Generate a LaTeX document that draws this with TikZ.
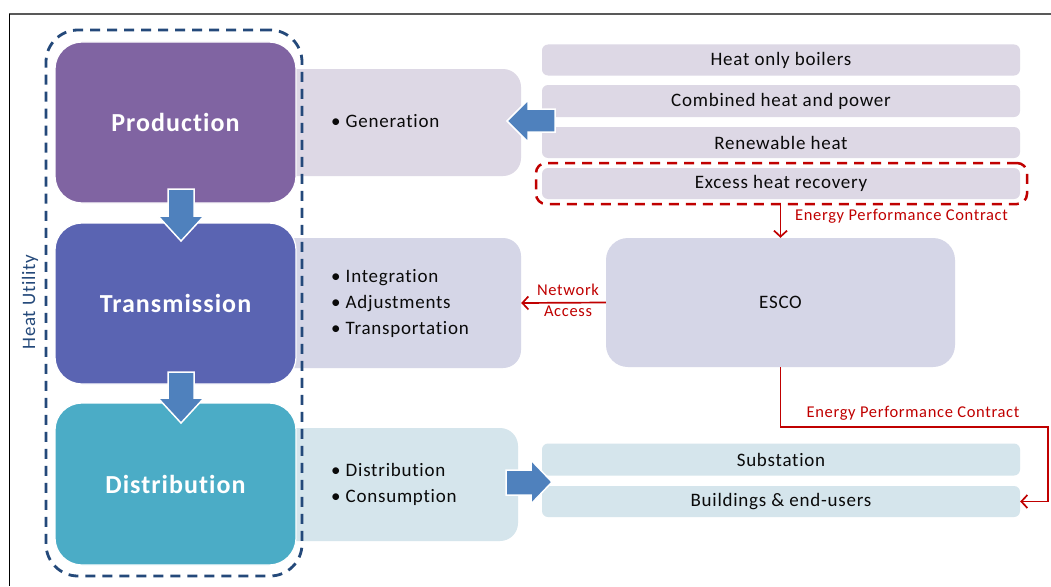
\documentclass[tikz,border=0pt]{standalone}
\usepackage{fontspec}
\setmainfont{Carlito}[LetterSpace=4,Ligatures={NoCommon}]
\usetikzlibrary{arrows.meta,calc}
\definecolor{prodc}{HTML}{8064A2}
\definecolor{transc}{HTML}{5A64B2}
\definecolor{distc}{HTML}{4BACC6}
\definecolor{lavc}{HTML}{DDD8E5}
\definecolor{bluelavc}{HTML}{D5D6E7}
\definecolor{lightbc}{HTML}{D5E5EC}
\definecolor{arrowc}{HTML}{4F81BD}
\definecolor{dashc}{HTML}{24497A}
\definecolor{redc}{HTML}{C00000}
\definecolor{framec}{HTML}{595959}
\definecolor{textc}{HTML}{0A0A0A}
\begin{document}
\begin{tikzpicture}[x=1pt,y=-1pt]
\tikzset{
  bigbox/.style={rectangle, rounded corners=27pt, draw=white, line width=1.2pt,
    minimum width=241pt, minimum height=161pt, text=white, inner sep=0pt,
    font=\fontsize{26}{30}\selectfont\bfseries},
  listbox/.style={rectangle, rounded corners=18pt, inner sep=0pt, minimum width=251pt},
  itembox/.style={rectangle, rounded corners=6pt, minimum width=478pt,
    minimum height=31pt, inner sep=0pt, text=textc, font=\fontsize{19}{22}\selectfont},
  bullets/.style={anchor=west, align=left, inner sep=0pt, text=textc,
    font=\fontsize{19}{26}\selectfont},
  redline/.style={draw=redc, line width=1.7pt, -{Straight Barb[length=6pt,width=13pt,line width=1.7pt]}},
  redlabel/.style={text=redc, inner sep=0pt, font=\fontsize{16.5}{21}\selectfont},
  blockarrow/.style={fill=arrowc, draw=white, line width=1.5pt, line join=miter},
  dashframe/.style={rectangle, draw=dashc, line width=2.8pt, dash pattern=on 10pt off 7pt,
    inner sep=0pt},
}
\useasboundingbox (0,0) rectangle (1051,586);
\fill[white] (0,0) rectangle (1051,586);
% outer frame
\draw[framec, line width=2pt] (9,14) -- (1051,14);
\draw[black, line width=1pt] (9,14) -- (9,586);

% list boxes (left corners hidden behind the big boxes)
\node[listbox, fill=lavc, minimum height=107pt] (genbox) at (395.5,122.5) {};
\node[listbox, fill=bluelavc, minimum height=130pt] (transbox) at (395.5,303) {};
\node[listbox, fill=lightbc, minimum width=248pt, minimum height=113pt] (distbox) at (394,484.5) {};

\node[bullets] (genlist) at (331,121) {\textbullet\ Generation};
\node[bullets] (translist) at (331,303) {\textbullet\ Integration\\\textbullet\ Adjustments\\\textbullet\ Transportation};
\node[bullets] (distlist) at (331,484) {\textbullet\ Distribution\\\textbullet\ Consumption};

% big boxes
\node[bigbox, fill=prodc] (prod) at (175.5,122.5) {Production};
\node[bigbox, fill=transc] (trans) at (175.5,303.5) {Transmission};
\node[bigbox, fill=distc, minimum height=162pt] (dist) at (175.5,484) {Distribution};

% heat utility frame
\node[dashframe, rounded corners=32pt, minimum width=256pt, minimum height=546pt] (utility) at (174,303) {};
\node[rotate=90, text=dashc, inner sep=0pt, font=\fontsize{19}{22}\selectfont] (utilitylabel) at (30,302) {Heat Utility};

% production sources
\node[itembox, fill=lavc] (hob) at (781,60) {Heat only boilers};
\node[itembox, fill=lavc, minimum height=32pt] (chp) at (781,101) {Combined heat and power};
\node[itembox, fill=lavc] (ren) at (781,142.5) {Renewable heat};
\node[itembox, fill=lavc] (exc) at (781,183.5) {Excess heat recovery};
\node[rectangle, draw=redc, line width=2.5pt, dash pattern=on 10pt off 7pt, rounded corners=10pt,
  minimum width=491pt, minimum height=41pt, inner sep=0pt] (excframe) at (781.5,183.5) {};

% ESCO
\node[rectangle, rounded corners=22pt, fill=bluelavc, minimum width=349pt, minimum height=129pt,
  inner sep=0pt, text=textc, font=\fontsize{19}{22}\selectfont] (esco) at (780.5,302.5) {ESCO};

% distribution targets
\node[itembox, fill=lightbc, minimum height=32pt] (sub) at (781,459.5) {Substation};
\node[itembox, fill=lightbc] (bld) at (781,501.5) {Buildings \& end-users};

% block arrows
\draw[blockarrow] (168,189) -- (194,189) -- (194,216) -- (204,216) -- (181,241) -- (158,216) -- (168,216) -- cycle;
\draw[blockarrow] (168,372) -- (194,372) -- (194,398) -- (204,398) -- (181,423) -- (158,398) -- (168,398) -- cycle;
\draw[blockarrow] (555,109) -- (528,109) -- (528,100) -- (507,121) -- (528,142) -- (528,132) -- (555,132) -- cycle;
\draw[blockarrow] (506,470) -- (531,470) -- (531,460) -- (552,482) -- (531,504) -- (531,495) -- (506,495) -- cycle;

% red connectors
\draw[redline] (esco.north |- excframe.south) -- (esco.north);
\node[redlabel, anchor=west] (epc1) at (795,216) {Energy Performance Contract};

\draw[redline] (esco.west) -- (transbox.east);
\node[redlabel, align=center] (netacc) at (568,300) {Network\\Access};

\coordinate (corner) at (1048,427);
\draw[redline] (esco.south) |- (corner) |- (bld.east);
\node[redlabel] (epc2) at (913,413) {Energy Performance Contract};
\end{tikzpicture}
\end{document}
